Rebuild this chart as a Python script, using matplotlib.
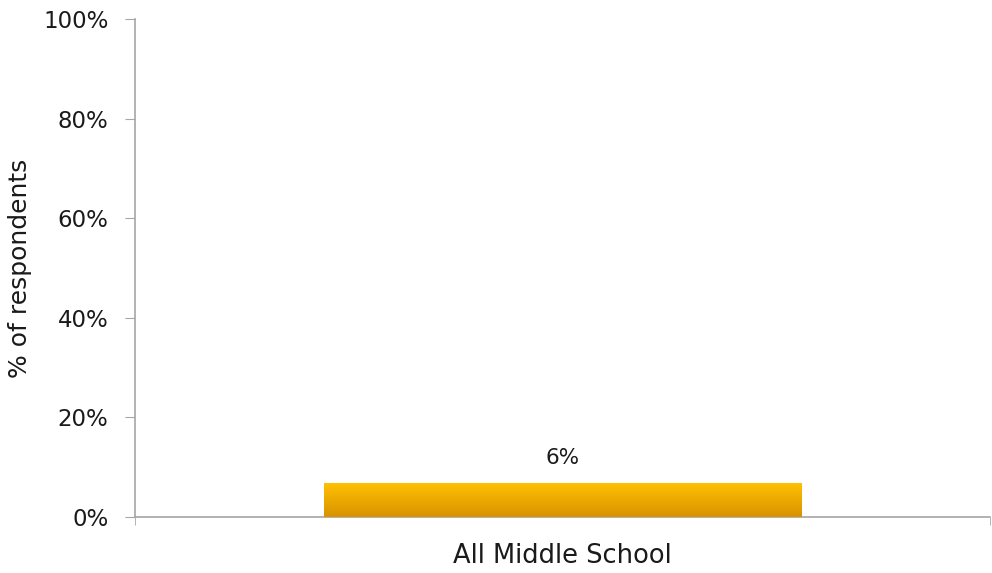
import matplotlib
matplotlib.use("Agg")
import matplotlib.pyplot as plt
import numpy as np
from matplotlib.colors import LinearSegmentedColormap

categories = ["All Middle School"]
values = [6.8]
value_labels = ["6%"]
yticks = [0, 20, 40, 60, 80, 100]
ytick_labels = ["0%", "20%", "40%", "60%", "80%", "100%"]

plt.rcParams['font.family'] = ['DejaVu Sans']

fig = plt.figure(figsize=(9.92, 5.73), dpi=100)
ax = fig.add_axes([135/992, 1-517/573, (990-135)/992, (517-19)/573])

x = np.arange(len(categories))
width = 0.558
bars = ax.bar(x, values, width=width, color="#F2AE00", zorder=2)

cmap = LinearSegmentedColormap.from_list("g", ["#D99200", "#FFC000"])
grad = np.linspace(0, 1, 256).reshape(-1, 1)
for b in bars:
    im = ax.imshow(grad, cmap=cmap, aspect='auto', origin='lower',
                   extent=[b.get_x(), b.get_x()+b.get_width(), 0, b.get_height()], zorder=3)
    im.set_clip_path(b)

tc = '#1a1a1a'
for xi, v, lab in zip(x, values, value_labels):
    ax.text(xi, v + 3, lab, ha='center', va='bottom', fontsize=15.5, color=tc)

ax.set_xlim(-0.5, len(categories) - 0.5)
ax.set_ylim(0, 100)
ax.set_yticks(yticks)
ax.set_yticklabels(ytick_labels, fontsize=16.5, color=tc)
ax.set_xticks(np.arange(len(categories) + 1) - 0.5, minor=True)
ax.set_xticks(x)
ax.set_xticklabels(categories, fontsize=18.5, color=tc)
ax.tick_params(axis='x', which='major', length=0, pad=19)
ax.tick_params(axis='x', which='minor', length=6, color='#A6A6A6', direction='out')
ax.tick_params(axis='y', length=7, color='#A6A6A6', direction='out', pad=12)

for s in ['top', 'right']:
    ax.spines[s].set_visible(False)
for s in ['left', 'bottom']:
    ax.spines[s].set_color('#A6A6A6')
    ax.spines[s].set_linewidth(1.2)

ax.set_ylabel("% of respondents", fontsize=18, color=tc, labelpad=8)

fig.savefig("out.png", dpi=100, facecolor='white')
